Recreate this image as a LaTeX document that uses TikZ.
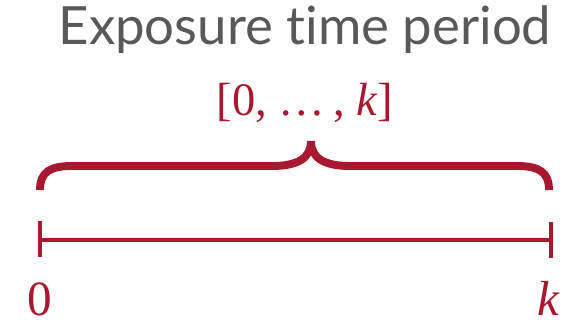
\documentclass[tikz,border=0pt]{standalone}
\usepackage{fontspec}
\setmainfont{Liberation Serif}
\newfontfamily\titlefont[Ligatures=NoCommon]{Lato}
\usepackage{xcolor}
\usepackage{tikz}
\usetikzlibrary{positioning, arrows.meta, calc}
\definecolor{accRed}{RGB}{166, 25, 46}
\definecolor{txtGray}{RGB}{89, 89, 89}

\begin{document}
\begin{tikzpicture}[
    x=0.4mm, y=-0.4mm,
    titletext/.style={
        inner sep=0pt, anchor=base, text=txtGray,
        font=\titlefont\fontsize{60}{70}\selectfont
    },
    rangetext/.style={
        inner sep=0pt, anchor=base, text=accRed,
        font=\fontsize{53}{64}\selectfont
    },
    endlabel/.style={
        inner sep=0pt, anchor=base, text=accRed,
        font=\fontsize{56}{66}\selectfont
    },
    bracepath/.style={draw=accRed, line width=9pt, line cap=butt},
    timeline/.style={draw=accRed, line width=4pt}
]
\useasboundingbox (0,0) rectangle (588,323);

\node[titletext] (title) at (305,44) {Exposure time period};
\node[rangetext] (range) at (305,115) {[0,~…\,,~\textit{k}]};

% the brace over the period
\coordinate (bl) at (40,190);
\coordinate (br) at (549,190);
\coordinate (tip) at (311,141);
\path[bracepath] (bl) .. controls (40,172) and (50,166) .. (72,166)
    -- (272,166) .. controls (298,166) and (311,158) .. (tip)
    .. controls (311,158) and (324,166) .. (350,166)
    -- (517,166) .. controls (539,166) and (549,172) .. (br);

% the time axis
\coordinate (t0) at (40,240);
\coordinate (tk) at (551,240);
\draw[timeline] (t0) -- (tk);
\draw[timeline] ($(t0)+(0,-19)$) -- ($(t0)+(0,17)$);
\draw[timeline] ($(tk)+(0,-18)$) -- ($(tk)+(0,18)$);

\node[endlabel] (zero) at (40,315) {0};
\node[endlabel] (kay) at (549,315) {\textit{k}};
\end{tikzpicture}
\end{document}
